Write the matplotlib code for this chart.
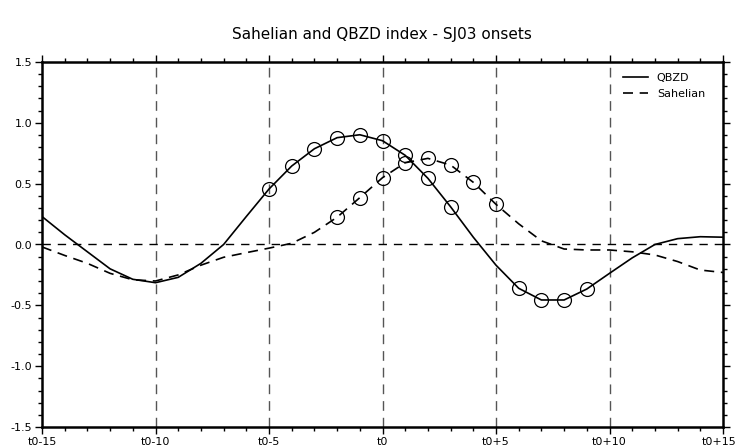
import matplotlib
matplotlib.use("Agg")
import matplotlib.pyplot as plt
from matplotlib.ticker import MultipleLocator
from matplotlib.transforms import ScaledTranslation

days = list(range(-15, 16))
qbzd = [0.23, 0.08, -0.06, -0.20, -0.286, -0.314, -0.27, -0.155, 0.0, 0.23,
        0.456, 0.645, 0.787, 0.878, 0.902, 0.853, 0.733, 0.544, 0.31, 0.06,
        -0.17, -0.36, -0.456, -0.456, -0.366, -0.237, -0.11, 0.0, 0.048, 0.064, 0.06]
sahel = [-0.02, -0.09, -0.155, -0.237, -0.29, -0.30, -0.25, -0.17, -0.105, -0.067,
         -0.03, 0.01, 0.10, 0.224, 0.385, 0.549, 0.672, 0.708, 0.653, 0.511,
         0.33, 0.17, 0.03, -0.037, -0.045, -0.045, -0.06, -0.086, -0.14, -0.21, -0.23]
qbzd_sig = [-5, -4, -3, -2, -1, 0, 1, 2, 3, 6, 7, 8, 9]
sahel_sig = [-2, -1, 0, 1, 2, 3, 4, 5]
tick_pos = [-15, -10, -5, 0, 5, 10, 15]
tick_labels = ["t0-15", "t0-10", "t0-5", "t0", "t0+5", "t0+10", "t0+15"]
title = "Sahelian and QBZD index - SJ03 onsets"

plt.rcParams["font.family"] = ["DejaVu Sans"]
fig = plt.figure(figsize=(7.38, 4.48), dpi=100)
ax = fig.add_axes([42 / 738, 1 - 427 / 448, (723 - 42) / 738, (427 - 62) / 448])

# reference lines
for xv in [-10, -5, 0, 5, 10]:
    ax.axvline(xv, color="#555555", lw=1.0, ls=(0, (7, 5)), zorder=1)
ax.axhline(0, color="black", lw=1.0, ls=(0, (6, 5)), zorder=1)

ax.plot(days, qbzd, color="black", lw=1.2, label="QBZD", zorder=3)
ax.plot(days, sahel, color="black", lw=1.2, ls=(0, (6, 4)), label="Sahelian", zorder=3)

qi = [days.index(d) for d in qbzd_sig]
si = [days.index(d) for d in sahel_sig]
ax.plot([days[i] for i in qi], [qbzd[i] for i in qi], ls="none", marker="o",
        ms=10, mfc="none", mec="black", mew=0.9, zorder=4)
ax.plot([days[i] for i in si], [sahel[i] for i in si], ls="none", marker="o",
        ms=10, mfc="none", mec="black", mew=0.9, zorder=4)

ax.set_xlim(-15, 15)
ax.set_ylim(-1.5, 1.5)
ax.set_xticks(tick_pos)
ax.set_xticklabels(tick_labels)
ax.xaxis.set_minor_locator(MultipleLocator(1))
ax.yaxis.set_minor_locator(MultipleLocator(0.1))
ax.set_yticks([-1.5, -1.0, -0.5, 0.0, 0.5, 1.0, 1.5])
ax.set_yticklabels(["-1.5", "-1.0", "-0.5", "0.0", "0.5", "1.0", "1.5"])
ax.tick_params(which="both", direction="out", top=True, right=True,
               labeltop=False, labelright=False, width=1.0, labelsize=8, pad=2)
ax.tick_params(which="major", length=5)
ax.tick_params(which="minor", length=3)
for s in ax.spines.values():
    s.set_linewidth(1.8)

# keep the last x label inside the canvas
last = ax.get_xticklabels()[-1]
last.set_transform(last.get_transform() + ScaledTranslation(-3 / 72, 0, fig.dpi_scale_trans))

ax.legend(loc="upper right", frameon=False, fontsize=8, handlelength=2.2,
          bbox_to_anchor=(0.99, 1.0), borderaxespad=0.6, labelspacing=0.5)

fig.text(382 / 738, 1 - 35 / 448, title, ha="center", va="center", fontsize=11)

fig.savefig("out.png", dpi=100)
